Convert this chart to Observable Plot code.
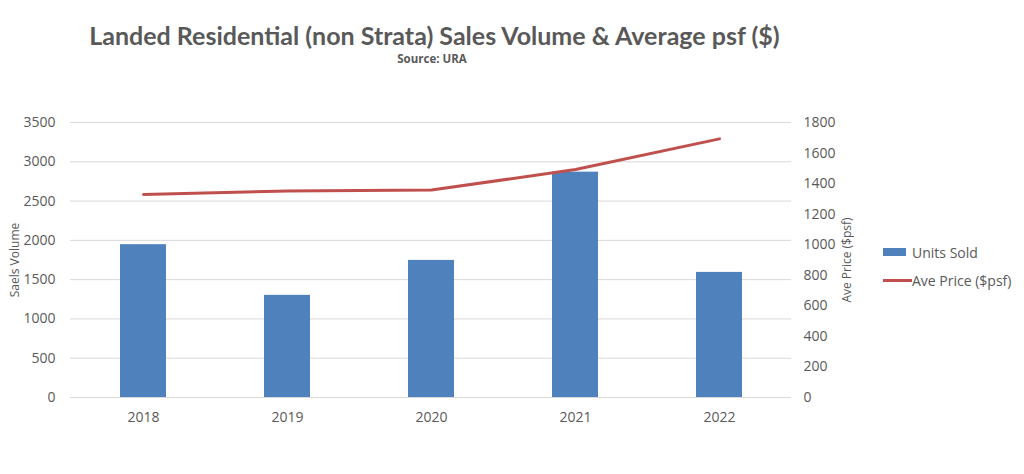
<!DOCTYPE html>
<html><head><meta charset="utf-8">
<script src="https://cdn.jsdelivr.net/npm/d3@7"></script>
<script src="https://cdn.jsdelivr.net/npm/@observablehq/plot@0.6"></script>
<style>
body{margin:0;background:#fff;font-family:"Open Sans",sans-serif;}
#wrap{position:relative;width:1024px;height:474px;overflow:hidden;}
#title{position:absolute;left:0;width:869px;top:20px;text-align:center;font-family:Lato,sans-serif;font-weight:bold;font-size:25px;color:#595959;}
#sub{position:absolute;left:0;width:864px;top:51px;text-align:center;font-family:"Open Sans",sans-serif;font-weight:bold;font-size:11.5px;color:#595959;}
#legend{position:absolute;left:883px;top:238px;font-size:14px;color:#595959;}
.li{display:flex;align-items:center;height:28px;}
#plot{position:absolute;left:0;top:0;}
</style></head>
<body><div id="wrap"><div id="plot"></div>
<div id="title">Landed Residential (non Strata) Sales Volume &amp; Average psf ($)</div>
<div id="sub">Source: URA</div>
<div id="legend">
<div class="li"><span style="display:inline-block;width:23px;height:8px;background:#4f81bd;margin-right:6px"></span>Units Sold</div>
<div class="li"><span style="display:inline-block;width:29px;height:3px;background:#c0504d;margin-right:0px"></span>Ave Price ($psf)</div>
</div>
</div>
<script>
const years = ["2018","2019","2020","2021","2022"];
const unitsSold = [1945, 1300, 1745, 2868, 1592];
const avePrice = [1329, 1352, 1358, 1492, 1693];
const leftTicks = [0,500,1000,1500,2000,2500,3000,3500];
const rightTicks = [0,200,400,600,800,1000,1200,1400,1600,1800];

const k = 3500/1800;
const data = years.map((y,i)=>({year:y, units:unitsSold[i], price:avePrice[i], priceScaled:avePrice[i]*k}));

const chart = Plot.plot({
  width:1024, height:474,
  marginLeft:70, marginRight:233, marginTop:122, marginBottom:77,
  style:{fontFamily:"Open Sans, sans-serif", fontSize:"14px", color:"#595959", background:"transparent"},
  x:{domain:years, padding:0, label:null},
  y:{domain:[0,3500]},
  marks:[
    Plot.gridY(leftTicks,{stroke:"#d9d9d9", strokeOpacity:1, strokeWidth:1}),
    Plot.barY(data,{x:"year", y:"units", fill:"#4f81bd", insetLeft:49, insetRight:49}),
    Plot.line(data,{x:"year", y:"priceScaled", stroke:"#c0504d", strokeWidth:3}),
    Plot.axisX({tickSize:0, tickPadding:15, label:null, fill:"#595959"}),
    Plot.axisY(leftTicks,{anchor:"left", tickSize:0, tickPadding:15, tickFormat:d=>String(d), label:"Saels Volume", labelAnchor:"center", labelOffset:60, fill:"#595959"}),
    Plot.axisY(rightTicks.map(v=>v*k),{anchor:"right", tickSize:0, tickPadding:12, tickFormat:d=>String(Math.round(d/k)), label:"Ave Price ($psf)", labelAnchor:"center", labelOffset:59, fill:"#595959"})
  ]
});
document.getElementById("plot").appendChild(chart);
chart.querySelectorAll("g[aria-label='y-axis label'] text").forEach(t=>{
  t.style.fontSize="12px";
  t.textContent = t.textContent.replace(/[\u2191\u2193\u2190\u2192]/g,"").trim();
});
</script></body></html>
